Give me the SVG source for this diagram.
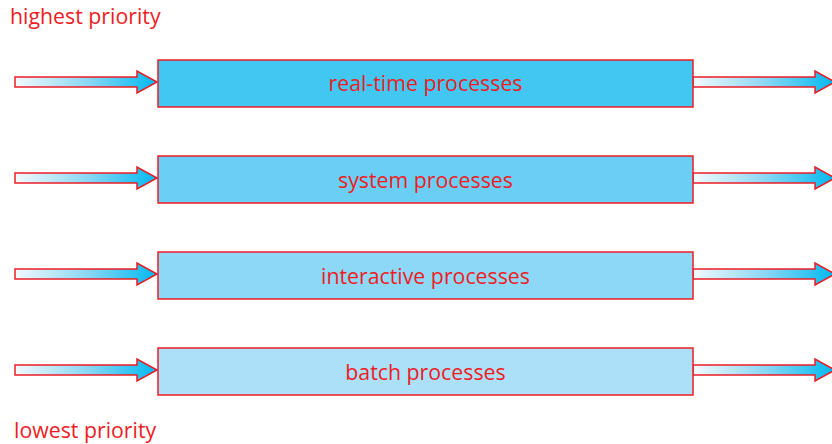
<svg xmlns="http://www.w3.org/2000/svg" width="832" height="444" viewBox="0 0 832 444">
<style>
.lbl{font-family:"Open Sans","Liberation Sans",sans-serif;font-size:21.3px;fill:#ED1C24}
.box{stroke:#ED1C24;stroke-width:1.5}
.arr{fill:url(#g);stroke:#ED1C24;stroke-width:1.5;stroke-linejoin:miter}
</style>
<defs>
<linearGradient id="g" x1="0" y1="0" x2="1" y2="0">
<stop offset="0" stop-color="#F2FAFD"/>
<stop offset="0.5" stop-color="#8DD8F4"/>
<stop offset="1" stop-color="#00B9F0"/>
</linearGradient>
<path id="arrow" d="M0,-5 L122,-5 L122,-11 L142,0 L122,11 L122,5 L0,5 Z"/>
</defs>
<text class="lbl" x="10" y="24">highest priority</text>
<text class="lbl" x="14" y="438">lowest priority</text>
<g id="connectors">
<use href="#arrow" class="arr" x="15" y="82"/>
<use href="#arrow" class="arr" x="15" y="178"/>
<use href="#arrow" class="arr" x="15" y="274"/>
<use href="#arrow" class="arr" x="15" y="370"/>
<use href="#arrow" class="arr" x="693" y="82"/>
<use href="#arrow" class="arr" x="693" y="178"/>
<use href="#arrow" class="arr" x="693" y="274"/>
<use href="#arrow" class="arr" x="693" y="370"/>
</g>
<g id="realtime">
<rect class="box" x="158" y="60" width="535" height="47" fill="#41C7F2"/>
<text class="lbl" x="425.5" y="91" text-anchor="middle">real-time processes</text>
</g>
<g id="system">
<rect class="box" x="158" y="156" width="535" height="47" fill="#6BCFF5"/>
<text class="lbl" x="425.5" y="188" text-anchor="middle">system processes</text>
</g>
<g id="interactive">
<rect class="box" x="158" y="252" width="535" height="47" fill="#8DD8F6"/>
<text class="lbl" x="425.5" y="284" text-anchor="middle">interactive processes</text>
</g>
<g id="batch">
<rect class="box" x="158" y="348" width="535" height="47" fill="#ABE0F8"/>
<text class="lbl" x="425.5" y="380" text-anchor="middle">batch processes</text>
</g>
</svg>
